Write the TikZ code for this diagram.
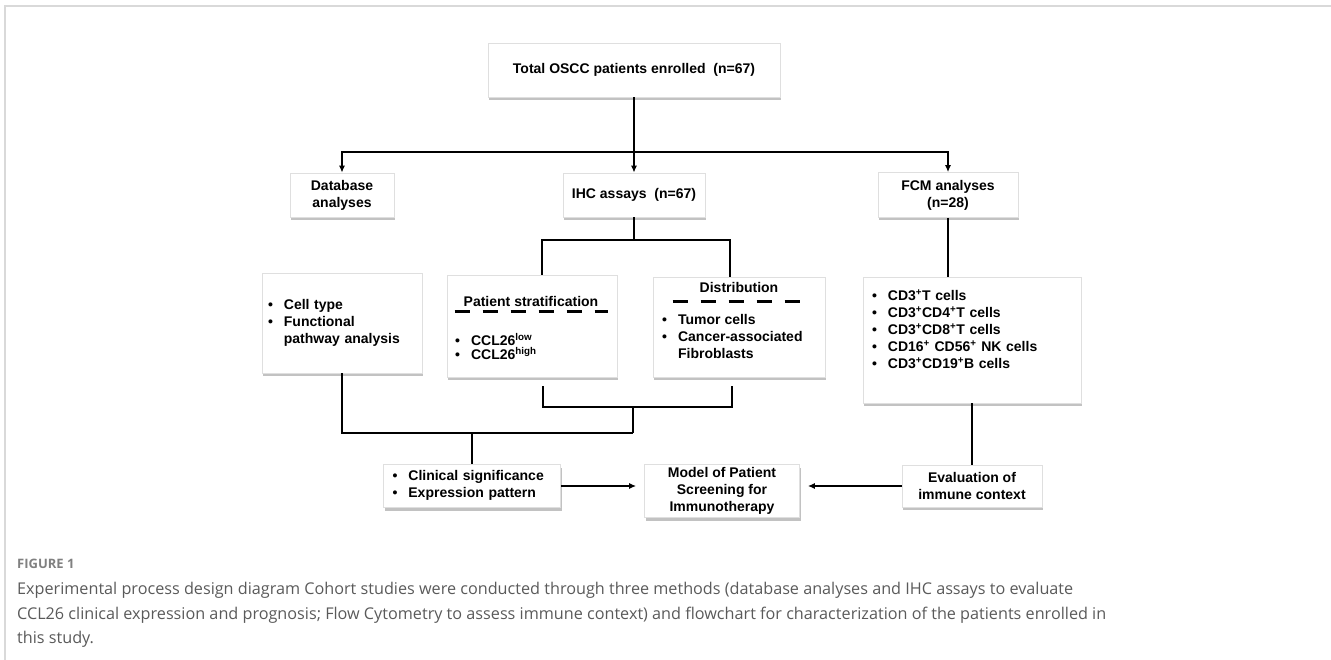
\documentclass[tikz,border=0pt]{standalone}
\usepackage{fontspec}
\setmainfont{Liberation Sans}
\newfontfamily\capfont{Open Sans}
\usepackage{tikz}
\usetikzlibrary{arrows.meta, shadows}
\definecolor{capgray}{HTML}{5A5A5A}
\newcommand{\itemlist}[1]{\begin{tabular}{@{}l@{\hspace{11pt}}l@{}}#1\end{tabular}}

\begin{document}
\begin{tikzpicture}[x=1pt, y=-1pt,
	box/.style={draw=gray!25, fill=white, line width=0.6pt, inner sep=0pt, align=center,
		drop shadow={shadow xshift=1pt, shadow yshift=-3pt, opacity=0.6, fill=gray!80},
		font=\fontsize{14}{17}\selectfont\bfseries},
	txt/.style={inner sep=0pt, font=\fontsize{14}{17}\selectfont\bfseries},
	line/.style={line width=1.8pt},
	arr/.style={line width=1.8pt, arrows={-Latex[length=7pt, width=6pt]}},
	dashline/.style={line width=2.4pt, dash pattern=on 15pt off 13pt},
	captxt/.style={anchor=base west, inner sep=0pt, text=capgray, font=\capfont\fontsize{16.2}{19}\selectfont}]
	\useasboundingbox (0,0) rectangle (1331,660);
	\draw[gray!30, line width=2pt] (5,660) -- (5,6) -- (1331,6);

	\node[box, minimum width=292, minimum height=54] (total) at (634,70) {Total OSCC patients enrolled\ \ (n=67)};
	\node[box, minimum width=104, minimum height=44] (db) at (342,195) {Database\\analyses};
	\node[box, minimum width=142, minimum height=44] (ihc) at (634,195) {IHC assays\ \ (n=67)};
	\node[box, minimum width=140, minimum height=45] (fcm) at (948,195) {FCM analyses\\(n=28)};

	\node[box, minimum width=160, minimum height=100, text width=148, align=left] (ctype) at (342,323)
		{\itemlist{•&Cell type\\•&Functional\\&pathway analysis}};
	\node[box, minimum width=170, minimum height=102] (strat) at (532,326) {};
	\node[txt] (shead) at (531,301) {Patient stratification};
	\node[txt, anchor=west] (slist) at (455,349)
		{\itemlist{•&CCL26\textsuperscript{low}\\[-4pt]•&CCL26\textsuperscript{high}}};
	\node[box, minimum width=172, minimum height=100] (distr) at (739,327) {};
	\node[txt] (dhead) at (739,287) {Distribution};
	\node[txt, anchor=west] (dlist) at (662,338)
		{\itemlist{•&Tumor cells\\•&Cancer-associated\\&Fibroblasts}};
	\node[box, minimum width=218, minimum height=126, text width=200, align=left] (cells) at (972,340)
		{\itemlist{•&CD3\textsuperscript{+}T cells\\•&CD3\textsuperscript{+}CD4\textsuperscript{+}T cells\\
		•&CD3\textsuperscript{+}CD8\textsuperscript{+}T cells\\•&CD16\textsuperscript{+} CD56\textsuperscript{+} NK cells\\
		•&CD3\textsuperscript{+}CD19\textsuperscript{+}B cells\\&}};

	\node[box, minimum width=177, minimum height=43, text width=159, align=left] (clin) at (472,486)
		{\itemlist{•&Clinical significance\\•&Expression pattern}};
	\node[box, minimum width=155, minimum height=53] (model) at (722,491) {Model of Patient\\Screening for\\Immunotherapy};
	\node[box, minimum width=140, minimum height=42] (eval) at (972,486) {Evaluation of\\immune context};

	\draw[dashline] ([xshift=8pt, yshift=-37pt]strat.north west) -- ([xshift=-9pt, yshift=-37pt]strat.north east);
	\draw[dashline] ([xshift=20pt, yshift=-25pt]distr.north west) -- ([xshift=-14pt, yshift=-25pt]distr.north east);

	\coordinate (split) at (634,152);
	\draw[line] (total.south) -- (split);
	\draw[arr] (split) -| (db.north);
	\draw[arr] (split) -- (ihc.north);
	\draw[arr] (split) -| (fcm.north);

	\draw[line] (ihc.south) -- ++(0,23) coordinate (isplit);
	\coordinate (sl) at (542,240);
	\coordinate (sr) at (730,240);
	\draw[line] (sl |- strat.north) -- (sl) -- (sr) -- (sr |- distr.north);

	\coordinate (bl) at (543,386);
	\coordinate (br) at (732,386);
	\coordinate (jn) at (633,433);
	\draw[line] (bl) -- ++(0,21) -| (br);
	\draw[line] (jn |- 0,407) -- (jn);
	\draw[line] (ctype.south) |- (jn);
	\draw[line] (clin.north |- jn) -- (clin.north);

	\draw[line] (fcm.south) -- (fcm.south |- cells.north);
	\draw[line] (cells.south) -- (eval.north);
	\draw[arr, shorten >=8pt] (clin.east) -- (clin.east -| model.west);
	\draw[arr, shorten >=8pt] (eval.west) -- (eval.west -| model.east);

	\node[anchor=base west, inner sep=0pt, text=gray, font=\capfont\fontsize{13}{15}\selectfont\bfseries] (fig) at (17,568) {FIGURE 1};
	\node[captxt] (cap1) at (17,594)
		{Experimental process design diagram Cohort studies were conducted through three methods (database analyses and IHC assays to evaluate};
	\node[captxt] (cap2) at (17,619)
		{CCL26 clinical expression and prognosis; Flow Cytometry to assess immune context) and flowchart for characterization of the patients enrolled in};
	\node[captxt] (cap3) at (17,643)
		{this study.};
\end{tikzpicture}
\end{document}
